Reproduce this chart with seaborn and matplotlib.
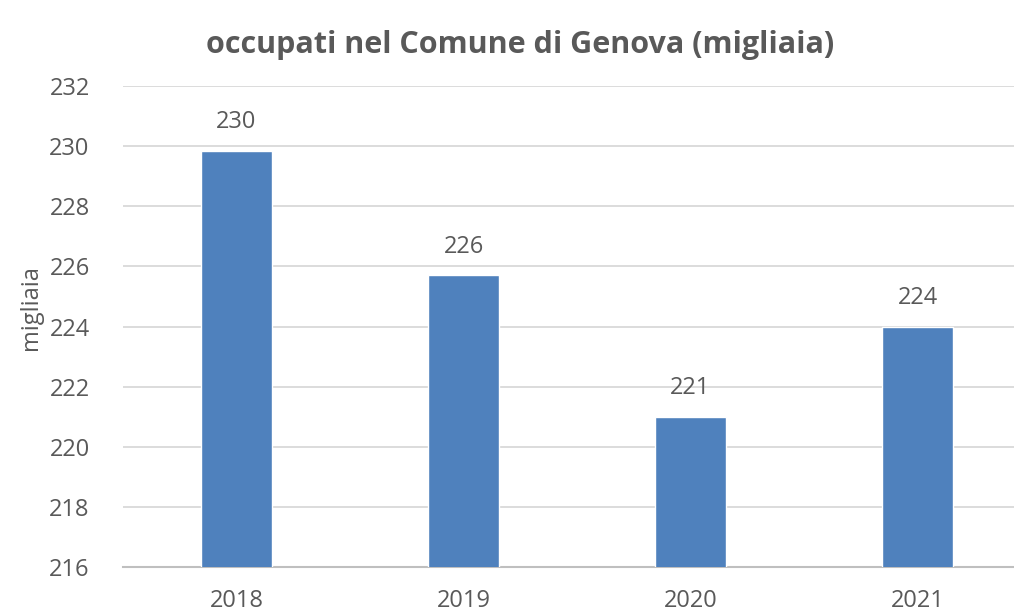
import matplotlib
matplotlib.use("Agg")
import matplotlib.pyplot as plt
import pandas as pd
import seaborn as sns

anni = ["2018", "2019", "2020", "2021"]
occupati = [229.85, 225.7, 221.0, 224.0]
etichette = ["230", "226", "221", "224"]

df = pd.DataFrame({"anno": anni, "occupati": occupati})

sns.set_style("white")
plt.rcParams["font.family"] = ["Open Sans", "DejaVu Sans"]

grigio = "#595959"
fig = plt.figure(figsize=(10.14, 6.15), dpi=100)
ax = fig.add_axes([0.1213, 0.078, 0.8955, 0.782])

sns.barplot(data=df, x="anno", y="occupati", color="#4f81bd", width=0.31,
            saturation=1, ax=ax, zorder=3)

ax.set_ylim(216, 232)
ax.set_yticks(range(216, 233, 2))
ax.grid(axis="y", color="#d9d9d9", linewidth=1.3, zorder=0)
for s in ["top", "right", "left"]:
    ax.spines[s].set_visible(False)
ax.spines["bottom"].set_color("#bfbfbf")
ax.spines["bottom"].set_linewidth(1.5)
ax.tick_params(axis="both", length=0, labelsize=17, colors=grigio)
ax.tick_params(axis="x", pad=16)
ax.tick_params(axis="y", pad=24)

for bar, lab in zip(ax.patches, etichette):
    ax.annotate(lab, (bar.get_x() + bar.get_width() / 2, bar.get_height()),
                xytext=(0, 12), textcoords="offset points", ha="center",
                va="bottom", fontsize=17, color=grigio)

ax.set_xlabel("")
ax.set_ylabel("migliaia", fontsize=17, color=grigio)
ax.yaxis.set_label_coords(-0.088, 0.54)
fig.text(0.513, 0.927, "occupati nel Comune di Genova (migliaia)", ha="center",
         va="center", fontsize=22, fontweight="bold", color=grigio)

fig.savefig("out.png", dpi=100)
